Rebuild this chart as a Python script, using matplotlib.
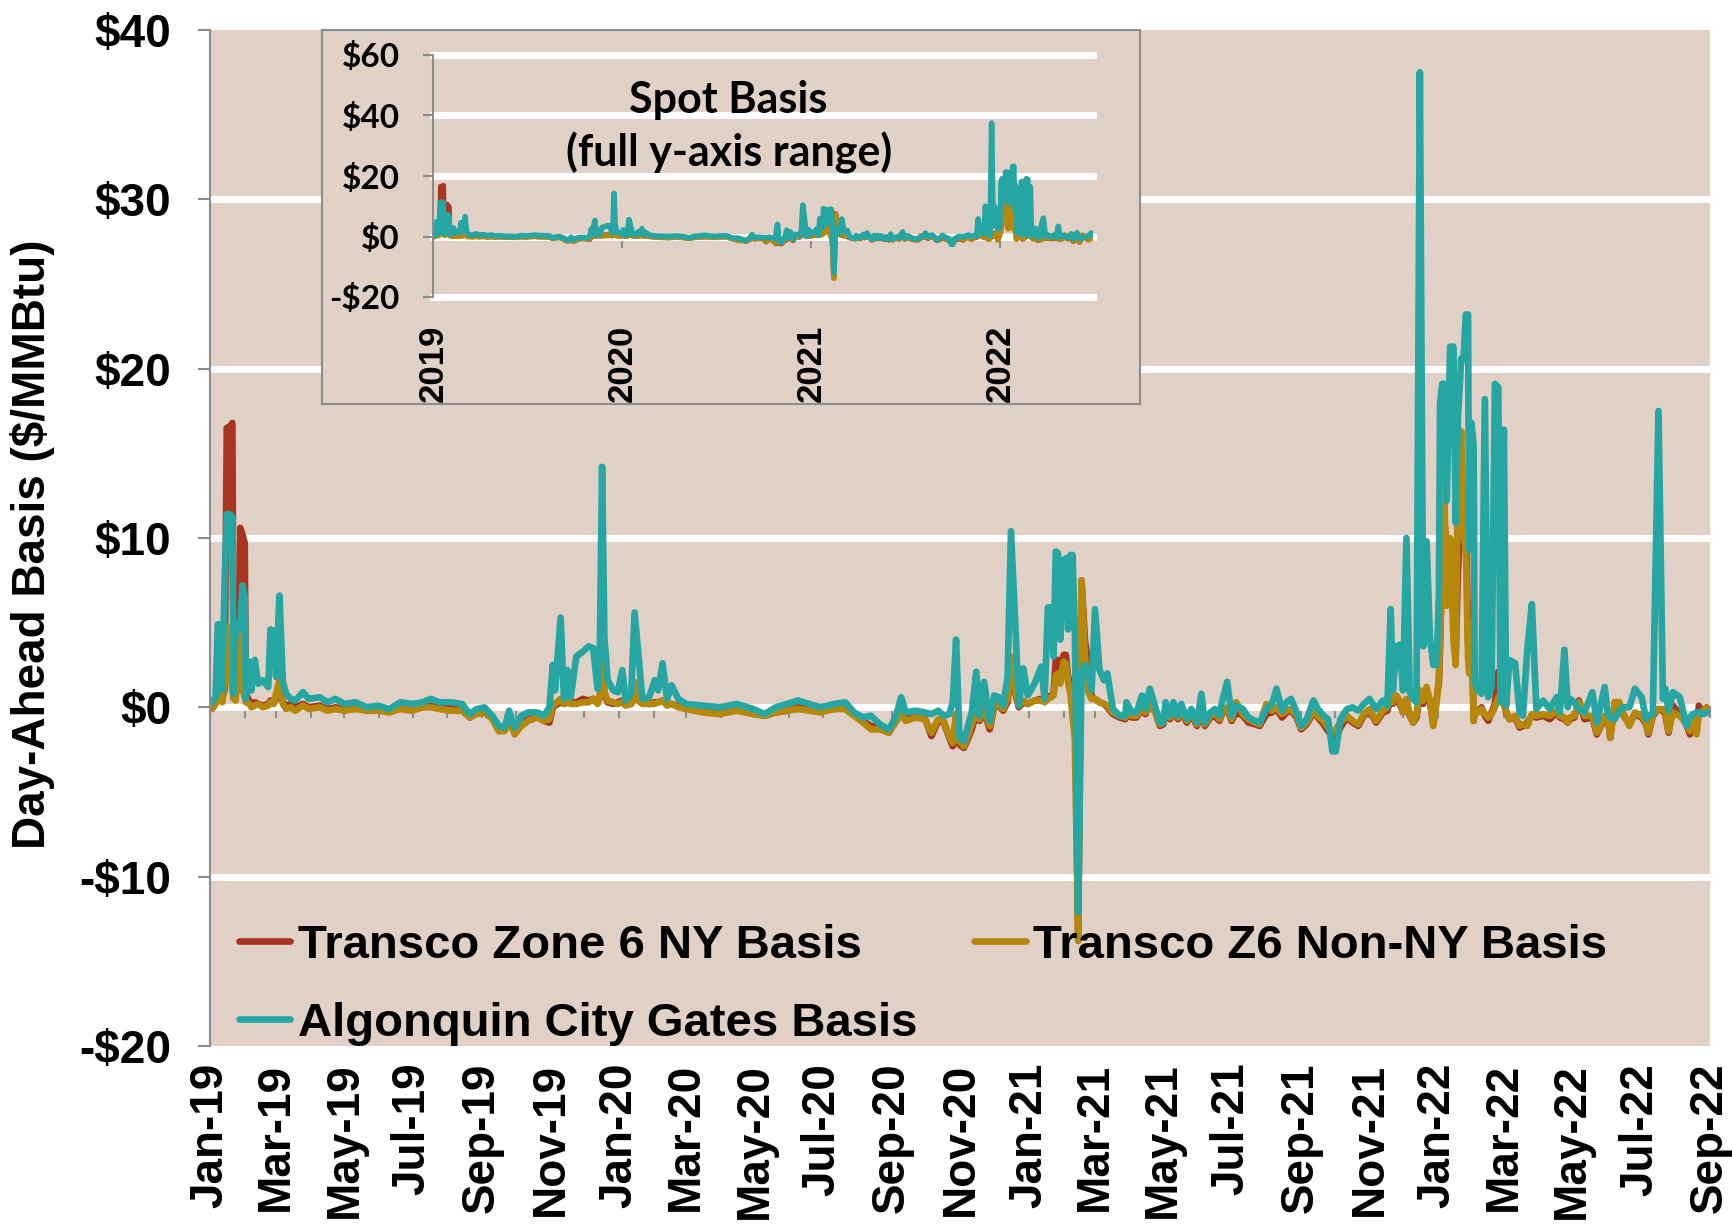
import matplotlib
matplotlib.use("Agg")
import matplotlib.pyplot as plt
import matplotlib.dates as mdates
from matplotlib.ticker import FuncFormatter, NullFormatter
import pandas as pd

plt.rcParams['font.family'] = ['Liberation Sans', 'DejaVu Sans']
plt.rcParams['font.weight'] = 'bold'

# ---- data ($/MMBtu, day-ahead basis) ----
dates = [
    # Jan - Apr 2019
    '2019-01-01', '2019-01-03', '2019-01-06', '2019-01-08', '2019-01-10', '2019-01-12', '2019-01-14', '2019-01-16',
    '2019-01-19', '2019-01-21', '2019-01-22', '2019-01-24', '2019-01-27', '2019-01-28', '2019-01-30', '2019-02-01',
    '2019-02-02', '2019-02-05', '2019-02-07', '2019-02-10', '2019-02-13', '2019-02-17', '2019-02-22', '2019-02-24',
    '2019-02-27', '2019-03-01', '2019-03-04', '2019-03-07', '2019-03-10', '2019-03-14', '2019-03-18', '2019-03-25',
    '2019-03-30', '2019-04-09', '2019-04-16', '2019-04-23',
    # May - Oct 2019
    '2019-05-01', '2019-05-11', '2019-05-21', '2019-05-31', '2019-06-10', '2019-06-20', '2019-06-30', '2019-07-10',
    '2019-07-17', '2019-07-25', '2019-08-04', '2019-08-14', '2019-08-21', '2019-08-27', '2019-09-03', '2019-09-10',
    '2019-09-16', '2019-09-21', '2019-09-25', '2019-09-30', '2019-10-06', '2019-10-12', '2019-10-20', '2019-10-26',
    '2019-10-31',
    # Nov 2019 - Feb 2020
    '2019-11-03', '2019-11-05', '2019-11-10', '2019-11-13', '2019-11-16', '2019-11-19', '2019-11-24', '2019-11-30',
    '2019-12-05', '2019-12-09', '2019-12-13', '2019-12-15', '2019-12-17', '2019-12-19', '2019-12-22', '2019-12-27',
    '2019-12-31', '2020-01-04', '2020-01-07', '2020-01-12', '2020-01-15', '2020-01-18', '2020-01-22', '2020-01-28',
    '2020-02-02', '2020-02-05', '2020-02-09', '2020-02-13', '2020-02-17', '2020-02-23', '2020-03-01',
    # Mar 2020 - Mar 2021
    '2020-03-16', '2020-03-31', '2020-04-15', '2020-04-30', '2020-05-10', '2020-05-20', '2020-05-30', '2020-06-09',
    '2020-06-19', '2020-06-29', '2020-07-11', '2020-07-21', '2020-07-29', '2020-08-06', '2020-08-13', '2020-08-21',
    '2020-08-29', '2020-09-04', '2020-09-09', '2020-09-13', '2020-09-22', '2020-09-30', '2020-10-06', '2020-10-12',
    '2020-10-17', '2020-10-22', '2020-10-25', '2020-10-28', '2020-10-31', '2020-11-04', '2020-11-08', '2020-11-11',
    '2020-11-15', '2020-11-18', '2020-11-22', '2020-11-27', '2020-12-01', '2020-12-05', '2020-12-09', '2020-12-13',
    '2020-12-16', '2020-12-20', '2020-12-23', '2020-12-27', '2020-12-31', '2021-01-06', '2021-01-12', '2021-01-15',
    '2021-01-18', '2021-01-21', '2021-01-23', '2021-01-25', '2021-01-27', '2021-01-29', '2021-02-01', '2021-02-03',
    '2021-02-05', '2021-02-07', '2021-02-09', '2021-02-11', '2021-02-14', '2021-02-17', '2021-02-20', '2021-02-23',
    '2021-02-26', '2021-03-01', '2021-03-05', '2021-03-09', '2021-03-12', '2021-03-17', '2021-03-23', '2021-03-28',
    '2021-03-29',
    # Apr - Nov 2021
    '2021-04-03', '2021-04-07', '2021-04-12', '2021-04-15', '2021-04-19', '2021-04-24', '2021-04-28', '2021-05-01',
    '2021-05-03', '2021-05-07', '2021-05-10', '2021-05-14', '2021-05-17', '2021-05-22', '2021-05-26', '2021-05-31',
    '2021-06-04', '2021-06-07', '2021-06-12', '2021-06-16', '2021-06-20', '2021-06-23', '2021-06-27', '2021-07-01',
    '2021-07-05', '2021-07-11', '2021-07-16', '2021-07-22', '2021-07-26', '2021-08-01', '2021-08-06', '2021-08-10',
    '2021-08-15', '2021-08-19', '2021-08-23', '2021-08-28', '2021-09-01', '2021-09-06', '2021-09-12', '2021-09-16',
    '2021-09-21', '2021-09-25', '2021-09-29', '2021-10-02', '2021-10-06', '2021-10-12', '2021-10-17', '2021-10-22',
    '2021-10-27', '2021-11-01', '2021-11-07', '2021-11-13', '2021-11-17',
    # Nov 2021 - Aug 2022
    '2021-11-20', '2021-11-22', '2021-11-25', '2021-11-28', '2021-12-01', '2021-12-04', '2021-12-07', '2021-12-10',
    '2021-12-13', '2021-12-16', '2021-12-19', '2021-12-22', '2021-12-25', '2021-12-28', '2021-12-31', '2022-01-02',
    '2022-01-03', '2022-01-05', '2022-01-07', '2022-01-09', '2022-01-12', '2022-01-15', '2022-01-17', '2022-01-19',
    '2022-01-22', '2022-01-24', '2022-01-26', '2022-01-28', '2022-01-29', '2022-01-31', '2022-02-02', '2022-02-03',
    '2022-02-06', '2022-02-09', '2022-02-12', '2022-02-15', '2022-02-18', '2022-02-21', '2022-02-24', '2022-02-26',
    '2022-03-01', '2022-03-03', '2022-03-06', '2022-03-11', '2022-03-15', '2022-03-18', '2022-03-22', '2022-03-26',
    '2022-03-30', '2022-04-05', '2022-04-11', '2022-04-17', '2022-04-20', '2022-04-24', '2022-04-27', '2022-04-29',
    '2022-05-03', '2022-05-07', '2022-05-12', '2022-05-19', '2022-05-23', '2022-05-30', '2022-06-02', '2022-06-04',
    '2022-06-08', '2022-06-12', '2022-06-16', '2022-06-21', '2022-06-26', '2022-07-02', '2022-07-06', '2022-07-08',
    '2022-07-12', '2022-07-17', '2022-07-21', '2022-07-23', '2022-07-26', '2022-07-30', '2022-08-05', '2022-08-11',
    '2022-08-14', '2022-08-17', '2022-08-20', '2022-08-22', '2022-08-26', '2022-08-29', '2022-08-31',
]

transco_ny = [
    0.2, 0.0, 0.3, 0.5, 0.9, 0.6, 1.0, 16.5, 16.6, 16.8, 1.2, 0.8, 1.5, 10.6, 10.2, 9.7,
    0.8, 0.4, 0.2, 0.3, 0.2, 0.1, 0.2, 0.4, 0.3, 0.5, 1.4, 0.3, 0.1, 0.2, 0.0, 0.2,
    0.0, 0.1, -0.1, 0.0,
    -0.1, 0.0, -0.2, -0.1, -0.2, 0.0, -0.1, 0.0, 0.1, 0.0, 0.0, -0.1, -0.6, -0.3, -0.3, -0.6,
    -1.4, -1.3, -0.7, -1.5, -1.0, -0.6, -0.5, -0.8, -0.9,
    0.0, 0.1, 0.3, 0.2, 0.3, 0.3, 0.3, 0.5, 0.4, 0.5, 0.3, 0.6, 2.8, 0.8, 0.3, 0.2,
    0.3, 0.4, 0.2, 0.2, 1.3, 0.5, 0.3, 0.2, 0.3, 0.3, 0.4, 0.2, 0.2, 0.1, 0.0,
    -0.2, -0.3, -0.1, -0.3, -0.5, -0.3, -0.2, 0.0, -0.1, -0.2, -0.1, 0.0, -0.4, -0.8, -1.1, -1.2,
    -1.5, -0.8, -0.3, -0.7, -0.5, -0.6, -1.7, -0.8, -0.9, -1.8, -2.3, -0.5, -2.2, -2.4, -1.8, -1.3,
    -0.4, -0.8, -0.2, -1.3, 0.0, 0.1, -0.2, 0.3, 2.5, 0.8, 0.0, 0.3, 0.2, 0.4, 0.5, 0.4,
    0.6, 0.7, 0.8, 2.8, 2.8, 2.0, 3.1, 3.1, 1.8, 1.5, 1.3, 1.0, -13.5, 7.5, 4.0, 2.4,
    0.6, 0.5, 0.3, 0.2, 0.0, -0.4, -0.6, -0.7, -0.4,
    -0.6, -0.6, -0.1, -0.4, 0.2, -0.3, -1.1, -1.0, -0.2, -0.7, -0.2, -0.7, -0.3, -0.9, -0.4, -1.1,
    -0.3, -1.1, -0.6, -0.5, -0.8, -0.3, -0.1, -0.8, -0.3, -0.5, -0.9, -1.0, -1.1, -0.4, -0.3, -0.1,
    -0.6, -0.3, -0.2, -0.6, -1.3, -1.0, -0.3, -0.6, -1.0, -1.4, -1.7, -1.8, -1.2, -0.6, -0.9, -1.1,
    -0.5, -0.2, -0.9, -0.3, -0.2,
    0.5, 0.2, 0.5, 0.2, -0.3, 0.3, -0.5, -0.9, -0.6, 0.8, 0.2, 1.0, 0.3, -1.0, 0.5, 1.5,
    3.5, 8.9, 11.0, 9.2, 7.5, 9.5, 3.0, 8.0, 12.0, 12.5, 12.5, 4.0, 2.5, 6.0, -0.8, -0.3,
    -0.2, 0.0, -0.5, -0.8, -0.3, 0.2, 2.1, 1.5, 0.3, -0.3, -0.7, -0.6, -1.2, -1.1, -0.9, -0.5,
    -0.6, -0.5, -0.7, -0.3, -0.6, -0.7, -0.9, -0.7, -0.6, 0.4, -0.7, -0.6, -1.6, -0.6, -0.8, -1.8,
    0.3, 0.2, -0.5, -1.0, -0.4, -0.6, -1.0, -1.6, -0.5, -0.1, -0.2, -0.4, -1.5, 0.1, -0.4, -1.0,
    -1.6, -0.6, -1.5, 0.1, -0.3, 0.0, -0.1,
]

transco_non_ny = [
    0.0, -0.1, 0.2, 0.8, 2.5, 0.3, 1.5, 4.8, 2.0, 1.0, 0.5, 0.4, 4.6, 1.5, 1.0, 0.6,
    0.3, 0.2, 0.0, 0.1, 0.2, 0.0, 0.1, 0.3, 0.2, 0.8, 1.6, 0.2, -0.1, 0.0, -0.2, 0.1,
    -0.1, 0.0, -0.2, -0.1,
    -0.2, -0.1, -0.2, -0.2, -0.3, -0.1, -0.2, 0.0, 0.0, -0.1, -0.2, -0.2, -0.6, -0.4, -0.3, -0.7,
    -1.4, -1.4, -0.8, -1.6, -1.1, -0.8, -0.6, -0.8, -0.7,
    0.2, 0.2, 0.5, 0.2, 0.3, 0.2, 0.2, 0.3, 0.3, 0.5, 0.2, 0.7, 3.2, 0.9, 0.4, 0.3,
    0.2, 0.3, 0.1, 0.2, 1.5, 0.4, 0.2, 0.2, 0.2, 0.3, 0.4, 0.1, 0.2, 0.0, -0.1,
    -0.3, -0.4, -0.2, -0.4, -0.5, -0.3, -0.2, -0.1, -0.2, -0.3, -0.1, -0.1, -0.5, -0.9, -1.3, -1.3,
    -1.5, -0.9, -0.4, -0.8, -0.6, -0.7, -1.5, -0.7, -0.8, -1.7, -2.1, -0.4, -2.0, -2.3, -1.6, -1.0,
    -0.3, -0.7, -0.1, -1.1, 0.1, 0.2, -0.1, 0.5, 3.0, 1.0, 0.1, 0.4, 0.2, 0.4, 0.4, 0.3,
    0.5, 0.6, 0.7, 1.9, 2.0, 1.4, 2.7, 2.6, 1.5, 0.8, -0.5, -1.9, -13.8, 7.5, 3.0, 0.9,
    0.5, 0.5, 0.3, 0.2, 0.1, -0.3, -0.5, -0.6, -0.3,
    -0.5, -0.5, 0.0, -0.3, 0.2, -0.3, -1.0, -0.9, -0.1, -0.6, -0.1, -0.6, -0.2, -0.8, -0.3, -1.0,
    -0.1, -1.0, -0.5, -0.3, -0.7, -0.2, 0.0, -0.7, 0.3, -0.4, -0.7, -0.9, -1.0, 0.2, -0.2, 0.0,
    -0.4, -0.2, -0.1, -0.5, -1.2, -0.9, -0.2, -0.5, -0.8, -1.2, -1.5, -1.3, -0.9, -0.5, -0.8, -1.0,
    -0.4, -0.1, -0.8, -0.2, 0.0,
    0.7, 0.3, 0.7, 0.4, -0.3, 0.5, -0.4, -0.9, -0.4, 1.0, 0.4, 1.2, 0.4, -1.1, 0.3, 1.8,
    4.0, 8.5, 12.0, 6.0, 10.0, 4.0, 2.5, 14.0, 16.3, 10.0, 9.5, 3.0, 2.0, 5.0, -0.8, -0.2,
    -0.3, -0.1, -0.4, -0.6, -0.4, 0.0, 0.6, 0.7, 0.1, -0.2, -0.7, -0.5, -1.1, -1.0, -1.1, -0.4,
    -0.5, -0.4, -0.5, -0.2, -0.5, -0.6, -0.9, -0.6, -0.5, 0.3, -0.5, -0.5, -1.5, -0.5, -0.7, -1.8,
    0.3, 0.3, -0.4, -1.1, -0.3, -0.5, -0.9, -1.5, -0.4, -0.1, -0.1, -0.3, -1.4, -0.3, -0.5, -0.9,
    -1.4, -0.5, -1.6, -0.4, -0.2, 0.0, -0.1,
]

algonquin = [
    0.4, 0.3, 0.6, 4.9, 4.9, 1.0, 7.4, 11.4, 11.4, 11.2, 0.8, 5.0, 4.6, 4.9, 7.2, 6.5,
    0.5, 2.7, 1.0, 2.8, 1.4, 1.6, 1.2, 4.6, 4.5, 1.8, 6.6, 1.5, 0.8, 0.5, 0.4, 0.9,
    0.5, 0.6, 0.3, 0.5,
    0.2, 0.3, 0.0, 0.1, -0.1, 0.3, 0.2, 0.3, 0.5, 0.3, 0.3, 0.2, -0.4, -0.1, 0.0, -0.5,
    -1.1, -1.2, -0.2, -1.2, -0.5, -0.3, -0.3, -0.5, 0.0,
    2.5, 1.0, 5.3, 0.5, 2.2, 0.6, 3.0, 3.3, 3.6, 3.5, 1.1, 3.4, 14.2, 4.2, 1.6, 1.0,
    0.9, 2.2, 0.4, 0.8, 5.6, 3.4, 0.5, 0.6, 1.6, 1.0, 2.6, 0.5, 1.3, 0.5, 0.2,
    0.1, 0.0, 0.2, -0.1, -0.4, 0.0, 0.2, 0.4, 0.2, 0.0, 0.2, 0.3, -0.3, -0.6, -0.5, -1.0,
    -1.3, -0.6, 0.6, -0.3, -0.2, -0.3, -0.4, -0.2, -0.5, -0.4, 0.3, 4.0, -1.8, -2.0, -1.0, -0.3,
    2.1, -0.5, 1.5, -0.8, 0.7, 0.6, 0.1, 1.8, 10.4, 4.7, 0.1, 2.3, 0.7, 1.4, 2.4, 0.5,
    5.9, 5.9, 3.0, 9.2, 9.1, 4.0, 8.7, 8.8, 4.6, 9.0, 9.0, 4.4, -12.1, 2.0, 2.5, 2.0,
    1.0, 5.8, 2.2, 1.6, 2.0, -0.1, -0.5, -0.5, 0.3,
    -0.3, -0.3, 0.7, -0.1, 1.1, 0.0, -0.9, -0.9, 0.3, -0.5, 0.3, -0.5, 0.2, -0.7, -0.1, -0.9,
    0.8, -0.9, -0.3, -0.1, -0.5, 0.5, 1.5, -0.5, 0.1, -0.1, -0.6, -0.8, -0.9, -0.1, 0.2, 1.1,
    -0.2, 0.3, 0.5, -0.3, -1.1, -0.7, 0.4, -0.1, -0.5, -0.7, -2.6, -2.6, -0.7, -0.1, 0.0, -0.2,
    0.2, 0.5, -0.1, 0.4, 0.1,
    5.8, 1.0, 3.6, 3.7, 1.0, 10.0, 0.9, 0.5, 0.3, 37.5, 3.6, 9.8, 4.1, 2.5, 2.5, 6.7,
    17.9, 19.1, 19.1, 12.2, 21.3, 21.3, 10.9, 17.1, 20.6, 20.6, 23.2, 23.2, 9.3, 16.8, 15.5, 1.4,
    1.0, 0.8, 18.2, 0.6, 1.2, 19.1, 18.9, 0.3, 16.4, 0.1, 2.8, 2.6, -0.3, -0.5, 3.5, 6.1,
    -0.1, 0.4, -0.1, 0.6, -0.3, 3.4, 0.0, 0.5, 0.3, -0.1, -0.3, 0.9, -0.9, 1.2, -0.5, -0.6,
    -0.7, -0.2, 0.0, 0.0, 1.1, 0.6, -0.7, -0.5, -0.4, 17.5, 0.5, 1.1, -0.2, 0.9, 0.6, -1.1,
    -0.6, -0.4, -0.3, -0.3, -0.4, -0.3, -0.3,
]

series_names = ['Transco Zone 6 NY Basis', 'Transco Z6 Non-NY Basis', 'Algonquin City Gates Basis']
series_colors = ['#A83520', '#B5880C', '#25A6A3']

assert len(dates) == len(transco_ny) == len(transco_non_ny) == len(algonquin)
x = pd.to_datetime(dates)
series = [transco_ny, transco_non_ny, algonquin]

BG = '#E0D0C6'
GRAY = '#8C8C8C'
W, H = 1732, 1225


def dollar(v, pos=None):
    if v < 0:
        return '-\\$%d' % abs(v)
    return '\\$%d' % v


fig = plt.figure(figsize=(W / 100, H / 100), dpi=100)

# ---- main chart ----
ax = fig.add_axes([210 / W, 1 - 1046 / H, 1500 / W, 1016 / H])
ax.set_facecolor(BG)
for s in ['top', 'right', 'bottom']:
    ax.spines[s].set_visible(False)
ax.spines['left'].set_color(GRAY)
ax.spines['left'].set_linewidth(1.5)

handles = []
for vals, name, col in zip(series, series_names, series_colors):
    h, = ax.plot(x, vals, color=col, lw=4.8, label=name,
                 solid_joinstyle='round', solid_capstyle='round')
    handles.append(h)

ax.set_ylim(-20, 40)
ax.set_yticks(range(-20, 41, 10))
ax.yaxis.set_major_formatter(FuncFormatter(dollar))
ax.tick_params(axis='y', length=9, width=1.5, color=GRAY, pad=19, labelsize=33)

ax.set_xlim(pd.Timestamp('2019-01-01'), pd.Timestamp('2022-09-01'))
ax.xaxis.set_major_locator(mdates.MonthLocator(bymonth=[1, 3, 5, 7, 9, 11]))
ax.xaxis.set_major_formatter(mdates.DateFormatter('%b-%y'))
ax.tick_params(axis='x', length=0, pad=12, labelsize=33, labelrotation=90)

ax.grid(axis='y', color='white', lw=5)
ax.set_axisbelow(True)
glines = ax.yaxis.get_gridlines()
glines[0].set_visible(False)
glines[-1].set_visible(False)

# horizontal axis line at $0 with monthly tick marks
sec = ax.secondary_xaxis(1 / 3)
sec.xaxis.set_major_locator(mdates.MonthLocator())
sec.xaxis.set_major_formatter(NullFormatter())
sec.tick_params(length=8, width=1.5, color=GRAY)
for s in sec.spines.values():
    s.set_color(GRAY)
    s.set_linewidth(1.5)

leg = ax.legend([handles[0], handles[2], handles[1]],
                [series_names[0], series_names[2], series_names[1]],
                loc='lower left', bbox_to_anchor=(0.019, 0.0), ncol=2, frameon=False,
                fontsize=34, handlelength=1.1, handletextpad=0.15, columnspacing=1.2,
                labelspacing=0.72, borderaxespad=0, borderpad=0)
for ln in leg.get_lines():
    ln.set_linewidth(4.8)

fig.text(33 / W, 1 - 544 / H, 'Day-Ahead Basis (\\$/MMBtu)', rotation=90,
         ha='center', va='center', fontsize=33, fontweight='bold')

# ---- inset: full y-axis range ----
box = fig.add_axes([322 / W, 1 - 404 / H, 818 / W, 374 / H], zorder=3)
box.set_facecolor(BG)
box.set_xticks([])
box.set_yticks([])
for s in box.spines.values():
    s.set_color(GRAY)
    s.set_linewidth(1.5)

ins = fig.add_axes([433 / W, 1 - 297 / H, 660 / W, 242 / H], zorder=4)
ins.set_facecolor('none')
for s in ['top', 'right', 'bottom']:
    ins.spines[s].set_visible(False)
ins.spines['left'].set_color(GRAY)
ins.spines['left'].set_linewidth(1.5)

for vals, col in zip(series, series_colors):
    ins.plot(x, vals, color=col, lw=4, solid_joinstyle='round', solid_capstyle='round')

ins.set_ylim(-20, 60)
ins.set_yticks(range(-20, 61, 20))
ins.yaxis.set_major_formatter(FuncFormatter(dollar))
ins.tick_params(axis='y', length=7, width=1.5, color=GRAY, pad=17, labelsize=24,
                labelfontfamily='Lato')
ins.set_xlim(pd.Timestamp('2019-01-01'), pd.Timestamp('2022-06-30'))
ins.xaxis.set_major_locator(mdates.YearLocator())
ins.xaxis.set_major_formatter(mdates.DateFormatter('%Y'))
ins.tick_params(axis='x', length=0, pad=20, labelsize=25, labelrotation=90)
ins.grid(axis='y', color='white', lw=5)
ins.set_axisbelow(True)
for gl in ins.yaxis.get_gridlines():
    gl.set_clip_on(False)

sec_in = ins.secondary_xaxis(0.25)
sec_in.xaxis.set_major_locator(mdates.YearLocator())
sec_in.xaxis.set_major_formatter(NullFormatter())
sec_in.tick_params(length=8, width=1.5, color=GRAY)
for s in sec_in.spines.values():
    s.set_color(GRAY)
    s.set_linewidth(1.5)

ins.text(0.448, 0.814, 'Spot Basis', transform=ins.transAxes, ha='center', va='center',
         fontsize=31, fontfamily='Lato', fontweight='bold')
ins.text(0.448, 0.595, '(full y-axis range)', transform=ins.transAxes, ha='center', va='center',
         fontsize=31, fontfamily='Lato', fontweight='bold')

fig.savefig('out.png', dpi=100, facecolor='white')
